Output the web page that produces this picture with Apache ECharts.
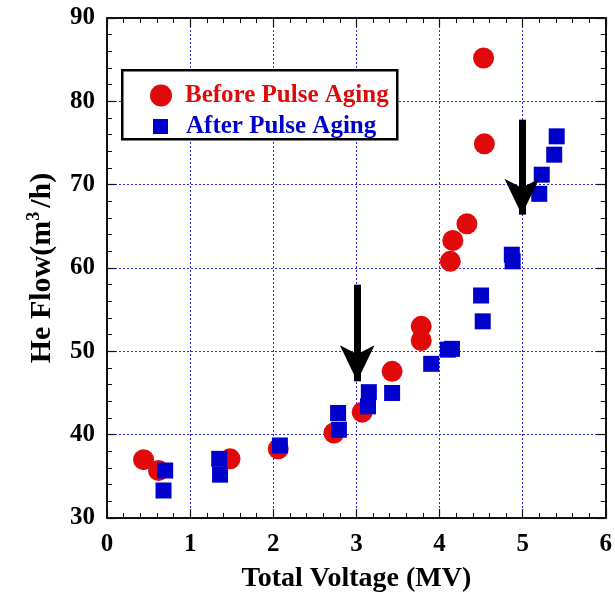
<!DOCTYPE html>
<html>
<head>
<meta charset="utf-8">
<script src="https://cdn.jsdelivr.net/npm/echarts@6/dist/echarts.min.js"></script>
<style>
  html, body { margin: 0; padding: 0; background: #fff; }
  #chart { width: 615px; height: 598px; }
</style>
</head>
<body>
<div id="chart"></div>
<script>
// He flow versus total voltage, before and after pulse aging
const beforeX = [0.44, 0.62, 1.48, 2.06, 2.73, 3.07, 3.43, 3.78, 3.78, 4.13, 4.16, 4.33, 4.53, 4.54];
const beforeY = [37.0, 35.7, 37.1, 38.3, 40.2, 42.7, 47.6, 51.3, 53.0, 60.8, 63.3, 65.3, 85.2, 74.9];

const afterX = [0.68, 0.70, 1.35, 1.36, 2.08, 2.78, 2.79, 3.14, 3.15, 3.43, 3.90, 4.10, 4.15, 4.50, 4.52, 4.87, 4.88, 5.20, 5.23, 5.38, 5.41];
const afterY = [33.3, 35.7, 37.1, 35.2, 38.7, 42.6, 40.6, 43.4, 45.1, 45.0, 48.5, 50.2, 50.3, 56.7, 53.6, 61.6, 60.8, 68.9, 71.2, 73.6, 75.8];

// arrows marking the onset voltages (tail value and tip value)
const arrowX = [3.01, 4.99];
const arrowFrom = [58.0, 77.8];
const arrowTip = [46.4, 66.4];

const seriesNames = ['Before Pulse Aging', 'After Pulse Aging'];

const RED = '#e00a0a';
const BLUE = '#0000cc';
const FONT = '"Liberation Serif", "Times New Roman", serif';

const zip = (xs, ys) => xs.map((x, i) => [x, ys[i]]);

const gridLine = { show: true, lineStyle: { color: '#2a2ae0', width: 1, type: [2, 2] } };
const frameLine = { show: true, onZero: false, lineStyle: { color: '#111', width: 2 } };
const tick = { show: true, inside: true, length: 9, lineStyle: { color: '#111', width: 1.2 } };
const minor = { show: true, splitNumber: 5, length: 5, lineStyle: { color: '#111', width: 1 } };
const tickLabel = { color: '#000', fontFamily: FONT, fontWeight: 'bold', fontSize: 25 };

const chart = echarts.init(document.getElementById('chart'));

chart.setOption({
  animation: false,
  backgroundColor: '#fff',
  grid: { left: 107, right: 8, top: 18, bottom: 80, containLabel: false },
  xAxis: [
    {
      type: 'value', min: 0, max: 6, interval: 1,
      name: 'Total Voltage (MV)', nameLocation: 'middle', nameGap: 47,
      nameTextStyle: { color: '#000', fontFamily: FONT, fontWeight: 'bold', fontSize: 28 },
      axisLine: frameLine, axisTick: tick, minorTick: minor,
      axisLabel: Object.assign({ margin: 14 }, tickLabel),
      splitLine: gridLine
    },
    {
      type: 'value', position: 'top', min: 0, max: 6, interval: 1,
      axisLine: frameLine, axisTick: tick, minorTick: minor,
      axisLabel: { show: false }, splitLine: { show: false }
    }
  ],
  yAxis: [
    {
      type: 'value', min: 30, max: 90, interval: 10,
      name: '{t|He Flow(m}{s|3}{t|/h)}', nameLocation: 'middle', nameGap: 48, nameRotate: 90,
      nameTextStyle: {
        rich: {
          t: { color: '#000', fontFamily: FONT, fontWeight: 'bold', fontSize: 30 },
          s: { color: '#000', fontFamily: FONT, fontWeight: 'bold', fontSize: 18, padding: [0, 4, 16, 0] }
        }
      },
      axisLine: frameLine, axisTick: tick, minorTick: minor,
      axisLabel: Object.assign({ margin: 12 }, tickLabel),
      splitLine: gridLine
    },
    {
      type: 'value', position: 'right', min: 30, max: 90, interval: 10,
      axisLine: frameLine, axisTick: tick, minorTick: minor,
      axisLabel: { show: false }, splitLine: { show: false }
    }
  ],
  legend: [
    {
      data: [seriesNames[0]], left: 145, top: 78, itemWidth: 22, itemHeight: 22, z: 6,
      icon: 'circle', selectedMode: false,
      textStyle: { color: RED, fontFamily: FONT, fontWeight: 'bold', fontSize: 25, padding: [0, 0, 0, 8] }
    },
    {
      data: [seriesNames[1]], left: 148, top: 109, itemWidth: 15, itemHeight: 15, z: 6,
      icon: 'rect', selectedMode: false,
      textStyle: { color: BLUE, fontFamily: FONT, fontWeight: 'bold', fontSize: 25, padding: [0, 0, 0, 13] }
    }
  ],
  graphic: [
    {
      type: 'rect', left: 121, top: 69, z: 5,
      shape: { width: 275, height: 69 },
      style: { fill: '#fff', stroke: '#000', lineWidth: 2.5 }
    }
  ],
  series: [
    {
      name: seriesNames[0], type: 'scatter', symbol: 'circle', symbolSize: 21, z: 3,
      itemStyle: { color: RED, opacity: 1 },
      data: zip(beforeX, beforeY)
    },
    {
      name: seriesNames[1], type: 'scatter', symbol: 'rect', symbolSize: 16, z: 4,
      itemStyle: { color: BLUE, opacity: 1 },
      data: zip(afterX, afterY)
    },
    {
      name: 'arrows', type: 'scatter', data: [], z: 5, silent: true,
      markLine: {
        silent: true, animation: false,
        symbol: ['none', 'arrow'], symbolSize: [26, 36],
        label: { show: false },
        lineStyle: { color: '#000', width: 7, type: 'solid' },
        itemStyle: { color: '#000' },
        emphasis: { disabled: true },
        data: arrowX.map((x, i) => [{ coord: [x, arrowFrom[i]] }, { coord: [x, arrowTip[i]] }])
      }
    }
  ]
});
</script>
</body>
</html>
